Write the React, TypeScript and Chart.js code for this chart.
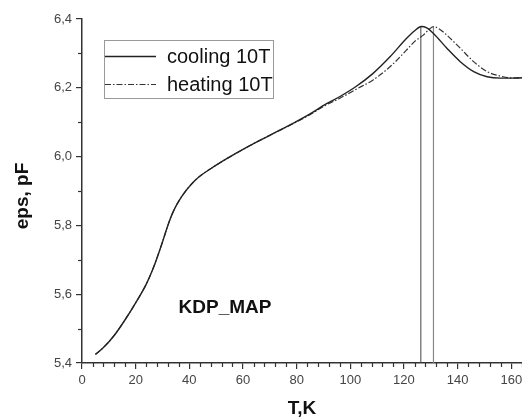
import React, { useEffect, useRef } from "react";
import { Chart, registerables } from "chart.js";

Chart.register(...registerables);

// ---- data ----
const coolingT = [5, 8, 12, 16, 20, 24, 27, 30, 32, 34, 37, 42, 50, 58, 65, 70, 79, 85, 91, 96, 102, 108.5, 114.8, 121, 124, 126.5, 128.5, 131, 136, 141, 146, 151, 156, 160, 164];
const coolingEps = [5.425, 5.445, 5.48, 5.525, 5.575, 5.63, 5.685, 5.752, 5.8, 5.84, 5.882, 5.93, 5.975, 6.012, 6.042, 6.062, 6.098, 6.124, 6.153, 6.174, 6.203, 6.242, 6.29, 6.344, 6.366, 6.378, 6.374, 6.358, 6.315, 6.276, 6.247, 6.232, 6.228, 6.228, 6.229];

const heatingT = [5, 8, 12, 16, 20, 24, 27, 30, 32, 34, 37, 42, 50, 58, 65, 70, 79, 85, 91, 96, 102, 108.5, 114.8, 121, 124, 127.2, 129, 131, 133, 136, 141, 146, 151, 156, 160, 164];
const heatingEps = [5.425, 5.445, 5.48, 5.525, 5.575, 5.63, 5.685, 5.752, 5.8, 5.84, 5.882, 5.93, 5.975, 6.012, 6.042, 6.062, 6.097, 6.122, 6.15, 6.169, 6.195, 6.223, 6.261, 6.31, 6.335, 6.353, 6.367, 6.378, 6.372, 6.353, 6.315, 6.276, 6.247, 6.234, 6.229, 6.229];

const peakT = [126.3, 131.0];
const peakEps = 6.378;
const seriesLabels = ["cooling 10T", "heating 10T"];
const xRange = [0, 164];
const yRange = [5.4, 6.4];
const xTitle = "T,K";
const yTitle = "eps, pF";
const sampleName = "KDP_MAP";
const sampleT = 53.3;
const sampleEps = 5.56;

const FONT = '"Liberation Sans", Arial, Helvetica, sans-serif';

const minorTicksPlugin = {
  id: "minorTicks",
  afterDraw(chart: any) {
    const { ctx, chartArea, scales } = chart;
    ctx.save();
    ctx.strokeStyle = "#333";
    ctx.lineWidth = 1.2;
    for (let v = xRange[0]; v <= xRange[1] + 1e-6; v += 4) {
      if (v % 20 === 0) continue;
      const px = Math.round(scales.x.getPixelForValue(v)) + 0.5;
      ctx.beginPath();
      ctx.moveTo(px, chartArea.bottom);
      ctx.lineTo(px, chartArea.bottom + 4);
      ctx.stroke();
    }
    for (let i = 1; i < 10; i += 2) {
      const v = yRange[0] + i * 0.1;
      const py = Math.round(scales.y.getPixelForValue(v)) + 0.5;
      ctx.beginPath();
      ctx.moveTo(chartArea.left - 4, py);
      ctx.lineTo(chartArea.left, py);
      ctx.stroke();
    }
    ctx.restore();
  },
};

const yTitlePlugin = {
  id: "yTitle",
  afterDraw(chart: any) {
    const { ctx, chartArea } = chart;
    ctx.save();
    ctx.translate(23, (chartArea.top + chartArea.bottom) / 2 + 5);
    ctx.rotate(-Math.PI / 2);
    ctx.fillStyle = "#111";
    ctx.font = `bold 19px ${FONT}`;
    ctx.textAlign = "center";
    ctx.textBaseline = "middle";
    ctx.fillText(yTitle, 0, 0);
    ctx.restore();
  },
};

const legendBoxPlugin = {
  id: "legendBox",
  afterDatasetsDraw(chart: any) {
    const { ctx, chartArea } = chart;
    const x0 = chartArea.left + 22;
    const y0 = chartArea.top + 21;
    const w = 169;
    const h = 58;
    ctx.save();
    ctx.fillStyle = "#fff";
    ctx.fillRect(x0, y0, w, h);
    ctx.strokeStyle = "#999";
    ctx.lineWidth = 1;
    ctx.strokeRect(x0 + 0.5, y0 + 0.5, w, h);
    const rows = [y0 + 16.5, y0 + 44.5];
    for (let i = 0; i < 2; i++) {
      const ds = chart.data.datasets[i];
      ctx.beginPath();
      ctx.setLineDash(ds.borderDash || []);
      ctx.strokeStyle = ds.borderColor;
      ctx.lineWidth = ds.borderWidth;
      ctx.moveTo(x0 + 1, rows[i]);
      ctx.lineTo(x0 + 52, rows[i]);
      ctx.stroke();
      ctx.setLineDash([]);
      ctx.fillStyle = "#111";
      ctx.font = `20px ${FONT}`;
      ctx.textBaseline = "middle";
      ctx.textAlign = "left";
      ctx.fillText(ds.label, x0 + 63, rows[i] + 1);
    }
    ctx.restore();
  },
};

const sampleLabelPlugin = {
  id: "sampleLabel",
  afterDatasetsDraw(chart: any) {
    const { ctx, scales } = chart;
    ctx.save();
    ctx.fillStyle = "#111";
    ctx.font = `bold 19px ${FONT}`;
    ctx.textAlign = "center";
    ctx.textBaseline = "middle";
    ctx.fillText(sampleName, scales.x.getPixelForValue(sampleT), scales.y.getPixelForValue(sampleEps));
    ctx.restore();
  },
};

export default function App() {
  const ref = useRef<HTMLCanvasElement | null>(null);

  useEffect(() => {
    document.body.style.margin = "0";
    const canvas = ref.current;
    if (!canvas) return;
    const toPts = (xs: number[], ys: number[]) => xs.map((x, i) => ({ x, y: ys[i] }));
    const chart = new Chart(canvas, {
      type: "line",
      data: {
        datasets: [
          {
            label: seriesLabels[0],
            data: toPts(coolingT, coolingEps),
            borderColor: "#222",
            borderWidth: 1.4,
            pointRadius: 0,
            cubicInterpolationMode: "monotone",
          },
          {
            label: seriesLabels[1],
            data: toPts(heatingT, heatingEps),
            borderColor: "#333",
            borderWidth: 1.2,
            borderDash: [6, 2, 1.5, 2],
            pointRadius: 0,
            cubicInterpolationMode: "monotone",
          },
          {
            label: "peak cooling",
            data: [
              { x: peakT[0], y: yRange[0] },
              { x: peakT[0], y: peakEps },
            ],
            borderColor: "#444",
            borderWidth: 1,
            pointRadius: 0,
          },
          {
            label: "peak heating",
            data: [
              { x: peakT[1], y: yRange[0] },
              { x: peakT[1], y: peakEps },
            ],
            borderColor: "#888",
            borderWidth: 1.2,
            pointRadius: 0,
          },
        ],
      } as any,
      options: {
        responsive: false,
        animation: false,
        devicePixelRatio: 1,
        layout: { padding: { top: 19, right: 0, left: 0, bottom: 0 } },
        plugins: {
          legend: { display: false },
          tooltip: { enabled: false },
        },
        scales: {
          x: {
            type: "linear",
            min: xRange[0],
            max: xRange[1],
            border: { display: true, color: "#333", width: 1.5 },
            grid: { drawOnChartArea: false, drawTicks: true, tickLength: 6, color: "#333", lineWidth: 1.2 },
            ticks: {
              stepSize: 20,
              includeBounds: false,
              color: "#444",
              padding: 4,
              font: { family: FONT, size: 13 },
              maxRotation: 0,
            },
            title: {
              display: true,
              text: xTitle,
              color: "#111",
              font: { family: FONT, size: 19, weight: "bold" },
              padding: { top: 0, bottom: 0 },
            },
            afterFit: (s: any) => {
              s.height = 57;
              s.paddingLeft = 0;
              s.paddingRight = 0;
            },
          },
          y: {
            type: "linear",
            min: yRange[0],
            max: yRange[1],
            border: { display: true, color: "#333", width: 1.5 },
            grid: { drawOnChartArea: false, drawTicks: true, tickLength: 6, color: "#333", lineWidth: 1.2 },
            ticks: {
              stepSize: 0.2,
              color: "#444",
              padding: 4,
              font: { family: FONT, size: 13 },
              callback: (v: any) => Number(v).toFixed(1).replace(".", ","),
            },
            title: { display: false },
            afterFit: (s: any) => {
              s.width = 82;
              s.paddingTop = 0;
              s.paddingBottom = 0;
            },
          },
        },
      } as any,
      plugins: [minorTicksPlugin, yTitlePlugin, legendBoxPlugin, sampleLabelPlugin],
    });
    return () => chart.destroy();
  }, []);

  return (
    <canvas
      ref={ref}
      width={522}
      height={420}
      style={{ display: "block", width: "522px", height: "420px" }}
    />
  );
}
